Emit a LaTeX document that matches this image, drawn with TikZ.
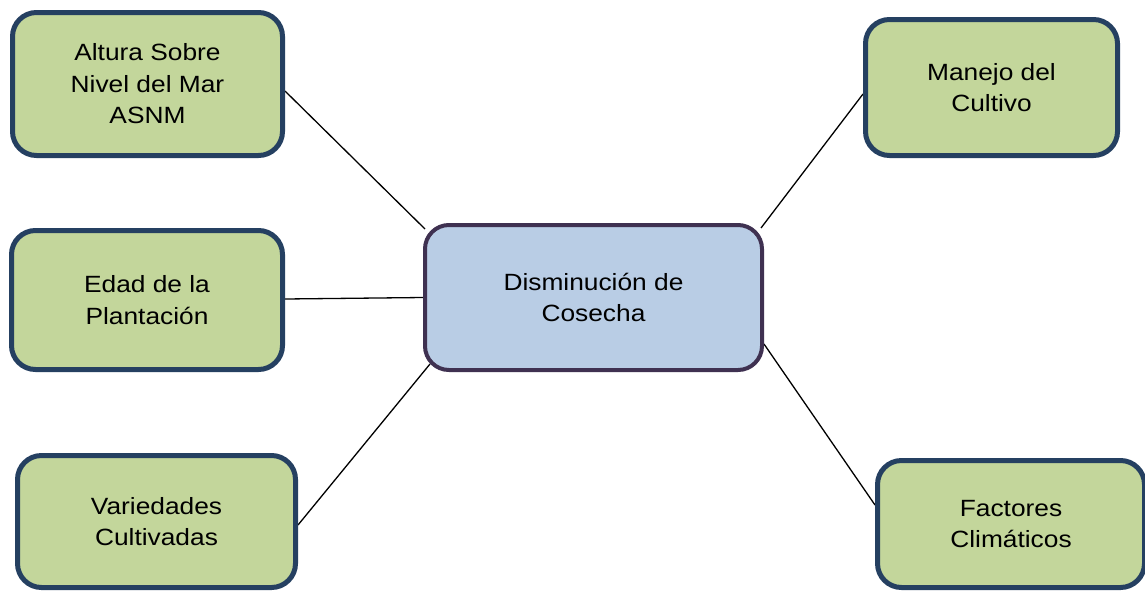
\documentclass[tikz,border=0pt]{standalone}
\usepackage{fontspec}
\setmainfont{Liberation Sans}[FakeStretch=1.12]
\usetikzlibrary{backgrounds}
\definecolor{gfill}{HTML}{C3D69B}
\definecolor{gdraw}{HTML}{254061}
\definecolor{cfill}{HTML}{B9CDE5}
\definecolor{cdraw}{HTML}{3F3151}
\tikzset{
  gbox/.style={draw=gdraw, fill=gfill, line width=5pt, rounded corners=24pt,
    align=center, inner sep=0pt, font=\fontsize{23.5}{31.5}\selectfont},
  cbox/.style={draw=cdraw, fill=cfill, line width=4pt, rounded corners=24pt,
    align=center, inner sep=0pt, font=\fontsize{23.5}{31.5}\selectfont},
  conn/.style={draw=black, line width=1.3pt}
}
\begin{document}
\begin{tikzpicture}[x=1pt,y=1pt]
\useasboundingbox (0,0) rectangle (1145,-590);
\node[gbox, minimum width=270pt, minimum height=143pt] (alt) at (147.5,-84) {Altura Sobre\\Nivel del Mar\\ASNM};
\node[gbox, minimum width=252pt, minimum height=136pt] (man) at (991.5,-87.5) {Manejo del\\Cultivo};
\node[gbox, minimum width=271pt, minimum height=139pt] (eda) at (147,-300) {Edad de la\\Plantación};
\node[gbox, minimum width=278pt, minimum height=132pt] (var) at (156.5,-521.5) {Variedades\\Cultivadas};
\node[gbox, minimum width=267pt, minimum height=127pt] (fac) at (1011,-524) {Factores\\Climáticos};
\node[cbox, minimum width=337pt, minimum height=145pt] (ctr) at (593.5,-297.5) {Disminución de\\Cosecha};
\begin{scope}[on background layer]
\fill[white] (0,0) rectangle (1145,-590);
\draw[conn] ([yshift=-7pt]alt.east) -- ([xshift=2pt,yshift=-6pt]ctr.north west);
\draw[conn] ([yshift=-6.5pt]man.west) -- ([xshift=-3pt,yshift=-5pt]ctr.north east);
\draw[conn] ([yshift=1pt]eda.east) -- (ctr.west);
\draw[conn] ([yshift=-3.5pt]var.east) -- ([xshift=7pt,yshift=8pt]ctr.south west);
\draw[conn] ([yshift=19pt]fac.west) -- ([yshift=28pt]ctr.south east);
\end{scope}
\end{tikzpicture}
\end{document}
